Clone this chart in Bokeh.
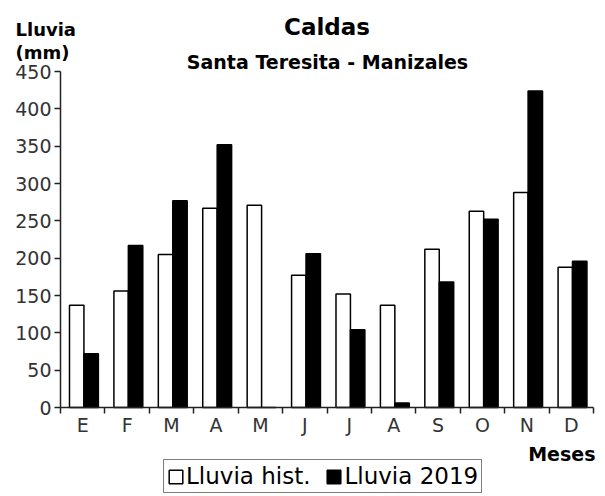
import numpy as np
from bokeh.plotting import figure
from bokeh.models import (Range1d, FixedTicker, Label, Legend, LegendItem,
                          ColumnDataSource)
from bokeh.transform import dodge
from bokeh.embed import file_html
from bokeh.resources import INLINE

# ---- data ----
months = ["E", "F", "M", "A", "M", "J", "J", "A", "S", "O", "N", "D"]
lluvia_hist = [137, 156, 205, 267, 271, 177, 152, 137, 212, 263, 288, 188]
lluvia_2019 = [72, 217, 277, 352, 0, 206, 104, 6, 168, 252, 424, 196]
y_ticks = [0, 50, 100, 150, 200, 250, 300, 350, 400, 450]
y_max = 450

FONT = "DejaVu Sans"

# ---- layout (pixels) ----
W, H = 603, 496
AX_LEFT, AX_RIGHT, AX_TOP, AX_BOTTOM = 60, 593, 71, 407
n = len(months)
pxx = (AX_RIGHT - AX_LEFT) / n
pxy = (AX_BOTTOM - AX_TOP) / y_max

pos = [i + 0.5 for i in range(n)]
src = ColumnDataSource(dict(pos=pos, month=months, hist=lluvia_hist, y19=lluvia_2019))

p = figure(width=W, height=H, output_backend="svg", toolbar_location=None,
           x_range=Range1d(-AX_LEFT / pxx, n + (W - AX_RIGHT) / pxx),
           y_range=Range1d(-(H - AX_BOTTOM) / pxy, y_max + AX_TOP / pxy),
           min_border=0, min_border_left=0, min_border_right=0,
           min_border_top=0, min_border_bottom=0, title=None)
p.outline_line_color = None
p.xgrid.visible = False
p.ygrid.visible = False
p.background_fill_color = "white"
p.border_fill_color = "white"

r_hist = p.vbar(x=dodge("pos", -0.135, range=p.x_range), top="hist", width=0.325,
                source=src, fill_color="white", line_color="black", line_width=1.5)
r_19 = p.vbar(x=dodge("pos", 0.19, range=p.x_range), top="y19", width=0.325,
              source=src, fill_color="black", line_color="black", line_width=1.5)

# x axis: labels at centers, ticks at boundaries
xa = p.xaxis[0]
xa.fixed_location = 0
xa.bounds = (0, n)
xa.ticker = FixedTicker(ticks=pos, minor_ticks=list(range(n + 1)))
xa.major_label_overrides = {pv: m for pv, m in zip(pos, months)}
xa.major_tick_line_color = None
xa.major_tick_out = 6
xa.major_tick_in = 0
xa.minor_tick_out = 6
xa.minor_tick_in = 0
xa.minor_tick_line_color = "#222222"
xa.minor_tick_line_width = 1.5
xa.axis_line_color = "#222222"
xa.axis_line_width = 1.5
xa.major_label_standoff = 0
xa.major_label_text_font = FONT
xa.major_label_text_font_size = "19px"
xa.major_label_text_color = "#333333"

ya = p.yaxis[0]
ya.fixed_location = 0
ya.bounds = (0, y_max)
ya.ticker = FixedTicker(ticks=y_ticks, minor_ticks=[])
ya.major_tick_out = 6
ya.major_tick_in = 0
ya.major_tick_line_color = "#222222"
ya.major_tick_line_width = 1.5
ya.axis_line_color = "#222222"
ya.axis_line_width = 1.5
ya.major_label_standoff = 3
ya.major_label_text_font = FONT
ya.major_label_text_font_size = "19px"
ya.major_label_text_color = "#333333"

def lab(text, x, y, size, align="left", bold=True):
    # x, y in pixels from the top-left of the canvas
    p.add_layout(Label(x=x, y=H - y, x_units="screen", y_units="screen", text=text,
                       text_font=FONT, text_font_size=size,
                       text_font_style="bold" if bold else "normal",
                       text_align=align, text_baseline="alphabetic",
                       text_color="black"))

lab("Caldas", 326.5, 26, "23px", align="center")
lab("Santa Teresita - Manizales", 327, 61.5, "19px", align="center")
lab("Lluvia", 15, 29, "18px")
lab("(mm)", 15, 52, "18px")
lab("Meses", 595, 453, "19px", align="right")

legend = Legend(items=[LegendItem(label="Lluvia hist.", renderers=[r_hist]),
                       LegendItem(label="Lluvia 2019", renderers=[r_19])],
                location=(163, 3), orientation="horizontal",
                glyph_width=17, glyph_height=17, label_standoff=2, spacing=15,
                padding=3, margin=0, label_height=22,
                label_text_font=FONT, label_text_font_size="23px",
                label_text_color="black",
                border_line_color="black", border_line_width=1.5,
                background_fill_color="white", background_fill_alpha=1)
p.add_layout(legend, "center")

open("out.html", "w").write(file_html(p, INLINE))
